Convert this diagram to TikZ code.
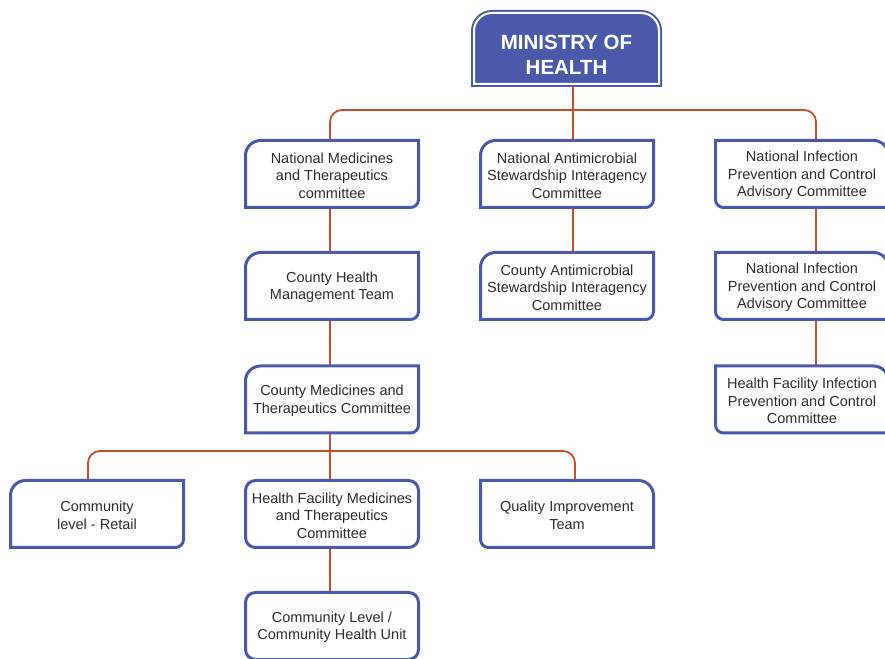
\documentclass[tikz,border=0pt]{standalone}
\usepackage{fontspec}
\setmainfont{Liberation Sans}
\usepackage{tikz}
\definecolor{boxblue}{HTML}{4A5AAA}
\definecolor{linkred}{HTML}{C8502A}
\definecolor{textgray}{HTML}{2E2E2E}
\tikzset{
  treebox/.style = {inner sep=0pt, outer sep=0pt, align=center, text=textgray,
    minimum width=173pt, minimum height=67pt,
    font=\fontsize{14.5}{17.5}\selectfont},% text box, outline drawn afterwards
  boxline/.style = {draw=boxblue, line width=3pt, fill=white},
  headbox/.style = {inner sep=0pt, outer sep=0pt, align=center, text=white,
    minimum width=185pt, minimum height=71pt,
    font=\fontsize{20.5}{25}\selectfont\bfseries},
  link/.style = {draw=linkred, line width=1.8pt}
}
% top-left big round, bottom-right small round
\newcommand\boxleft[1]{\draw[boxline] (#1.south west) -- ([yshift=-15pt]#1.north west)
  arc[start angle=180,end angle=90,radius=15pt] -- (#1.north east)
  -- ([yshift=8pt]#1.south east) arc[start angle=0,end angle=-90,radius=8pt] -- cycle;
  \node[treebox] at ([yshift=-1.5pt]#1) {\csname txt#1\endcsname};}
% top-right big round, bottom-left small round
\newcommand\boxright[1]{\draw[boxline] ([xshift=8pt]#1.south west)
  arc[start angle=270,end angle=180,radius=8pt] -- (#1.north west)
  -- ([xshift=-15pt]#1.north east) arc[start angle=90,end angle=0,radius=15pt]
  -- (#1.south east) -- cycle;
  \node[treebox] at ([yshift=-1.5pt]#1) {\csname txt#1\endcsname};}
% all corners round
\newcommand\boxall[1]{\draw[boxline, rounded corners=10pt] (#1.south west)
  rectangle (#1.north east);
  \node[treebox] at ([yshift=-1.5pt]#1) {\csname txt#1\endcsname};}

\begin{document}
\begin{tikzpicture}[x=1pt,y=1pt]
\useasboundingbox (0,0) rectangle (885,658);
% texts
\def\txtaone{National Medicines\\and Therapeutics\\committee}
\def\txtbone{National Antimicrobial\\Stewardship Interagency\\Committee}
\def\txtcone{National Infection\\Prevention and Control\\Advisory Committee}
\def\txtatwo{County Health\\Management Team}
\def\txtbtwo{County Antimicrobial\\Stewardship Interagency\\Committee}
\def\txtctwo{National Infection\\Prevention and Control\\Advisory Committee}
\def\txtathree{County Medicines and\\Therapeutics Committee}
\def\txtcthree{Health Facility Infection\\Prevention and Control\\Committee}
\def\txtretail{Community\\level - Retail}
\def\txtafour{Health Facility Medicines\\and Therapeutics\\Committee}
\def\txtqit{Quality Improvement\\Team}
\def\txtafive{Community Level /\\Community Health Unit}
% boxes (place holders)
\node[headbox] (ministry) at (566.5,603.5) {MINISTRY OF\\HEALTH};
\node[treebox] (aone) at (332,484) {};
\node[treebox] (bone) at (567,484) {};
\node[treebox] (cone) at (802,484) {};
\node[treebox] (atwo) at (332,372) {};
\node[treebox] (btwo) at (567,372) {};
\node[treebox] (ctwo) at (802,372) {};
\node[treebox] (athree) at (332,258.5) {};
\node[treebox] (cthree) at (802,258.5) {};
\node[treebox] (retail) at (97,144) {};
\node[treebox] (afour) at (332,144) {};
\node[treebox] (qit) at (567,144) {};
\node[treebox] (afive) at (332,32) {};
% connectors
\coordinate (busone) at (573,548);
\coordinate (bustwo) at (330,207);
\draw[link] ([xshift=6.5pt,yshift=6pt]ministry.south) -- ([xshift=6pt]bone.north);
\draw[link, rounded corners=12pt] ([xshift=-2pt]aone.north) |- (busone)
  -| ([xshift=14pt]cone.north);
\draw[link] ([xshift=-2pt]aone.south) -- ([xshift=-2pt]atwo.north);
\draw[link] ([xshift=-2pt]atwo.south) -- ([xshift=-2pt]athree.north);
\draw[link] ([xshift=-2pt]athree.south) -- ([xshift=-2pt]afour.north);
\draw[link] ([xshift=-2pt]afour.south) -- ([xshift=-2pt]afive.north);
\draw[link] ([xshift=6pt]bone.south) -- ([xshift=6pt]btwo.north);
\draw[link] ([xshift=14pt]cone.south) -- ([xshift=14pt]ctwo.north);
\draw[link] ([xshift=14pt]ctwo.south) -- ([xshift=14pt]cthree.north);
\draw[link, rounded corners=12pt] ([xshift=-9pt]retail.north) |- (bustwo)
  -| ([xshift=8pt]qit.north);
% head box, double frame
\draw[draw=boxblue, line width=2pt, double=white, double distance=2pt, fill=boxblue]
  ([yshift=6pt]ministry.south west) -- ([yshift=-18pt+6pt]ministry.north west)
  arc[start angle=180,end angle=90,radius=18pt]
  -- ([xshift=-18pt,yshift=6pt]ministry.north east)
  arc[start angle=90,end angle=0,radius=18pt]
  -- ([yshift=6pt]ministry.south east) -- cycle;
\node[headbox] at (ministry) {MINISTRY OF\\HEALTH};
% frames
\boxleft{aone}
\boxleft{bone}
\boxright{cone}
\boxleft{atwo}
\boxleft{btwo}
\boxright{ctwo}
\boxleft{athree}
\boxright{cthree}
\boxleft{retail}
\boxall{afour}
\boxright{qit}
\boxall{afive}
\end{tikzpicture}
\end{document}
